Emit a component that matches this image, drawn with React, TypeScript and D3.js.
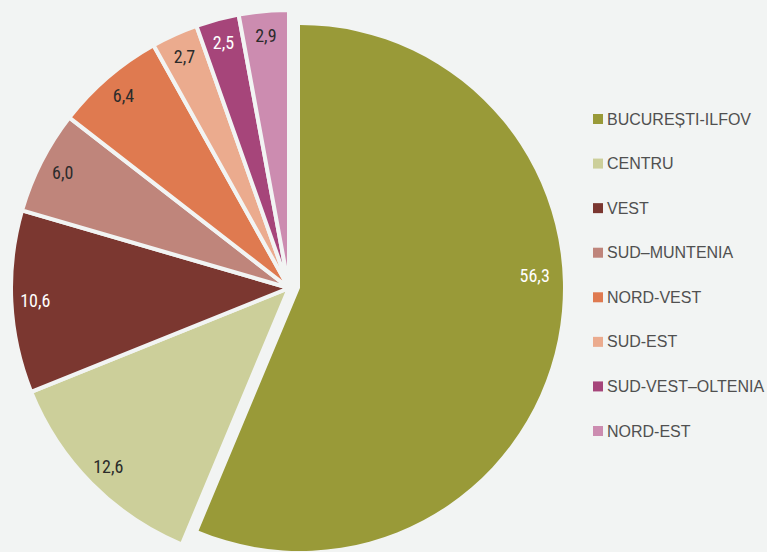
import { useMemo } from "react";
import * as d3 from "d3";

const WIDTH = 767;
const HEIGHT = 552;
const BG = "#f2f4f3";

const categories = [
  "BUCUREȘTI-ILFOV",
  "CENTRU",
  "VEST",
  "SUD–MUNTENIA",
  "NORD-VEST",
  "SUD-EST",
  "SUD-VEST–OLTENIA",
  "NORD-EST",
];
const values = [56.3, 12.6, 10.6, 6.0, 6.4, 2.7, 2.5, 2.9];
const colors = [
  "#999a38",
  "#cccf9a",
  "#7b3730",
  "#bf857b",
  "#df7a50",
  "#ebab8e",
  "#a6457a",
  "#cc8cb0",
];
const labelColors = [
  "#ffffff",
  "#2b2b2b",
  "#ffffff",
  "#2b2b2b",
  "#2b2b2b",
  "#2b2b2b",
  "#ffffff",
  "#2b2b2b",
];

// big slice is pulled out from the rest
const BIG = { cx: 300, cy: 288, r: 263, labelR: 235, labelAngle: 87 };
const REST = { cx: 289, cy: 288, r: 278, labelR: 254 };

const fmt = d3.formatLocale({ decimal: ",", thousands: ".", grouping: [3], currency: ["", ""] }).format(".1f");

export default function App() {
  const slices = useMemo(() => d3.pie<number>().sort(null).value((d) => d)(values), []);

  const legendY = d3.scalePoint<string>().domain(categories).range([119, 431]);

  const labelFont = "'Liberation Sans Narrow', 'Roboto Condensed', 'DejaVu Sans Condensed', sans-serif";

  return (
    <div style={{ position: "absolute", left: 0, top: 0 }}>
      <svg width={WIDTH} height={HEIGHT} style={{ display: "block" }}>
        <rect width={WIDTH} height={HEIGHT} fill={BG} />
        {slices.map((s, i) => {
          const big = i === 0;
          const g = big ? BIG : REST;
          const arc = d3.arc<any>().innerRadius(0).outerRadius(g.r);
          let lx: number, ly: number;
          if (big) {
            const a = (BIG.labelAngle * Math.PI) / 180;
            lx = Math.sin(a) * BIG.labelR;
            ly = -Math.cos(a) * BIG.labelR;
          } else {
            [lx, ly] = d3.arc<any>().innerRadius(g.labelR).outerRadius(g.labelR).centroid(s);
          }
          return (
            <g key={i} transform={`translate(${g.cx},${g.cy})`}>
              <path
                d={arc(s) as string}
                fill={colors[i]}
                stroke={big ? "none" : BG}
                strokeWidth={big ? 0 : 4}
                strokeLinejoin="miter"
              />
              <text
                x={lx}
                y={ly}
                textAnchor="middle"
                dominantBaseline="central"
                fill={labelColors[i]}
                fontFamily={labelFont}
                fontStretch="condensed"
                fontSize={18}
              >
                {fmt(values[i])}
              </text>
            </g>
          );
        })}
        <g>
          {categories.map((c, i) => (
            <g key={c} transform={`translate(593,${legendY(c)})`}>
              <rect x={0} y={-5} width={10} height={10} fill={colors[i]} />
              <text
                x={14}
                y={0}
                dominantBaseline="central"
                fill="#505050"
                fontFamily="'Liberation Sans', Arial, sans-serif"
                fontSize={16}
              >
                {c}
              </text>
            </g>
          ))}
        </g>
      </svg>
    </div>
  );
}
